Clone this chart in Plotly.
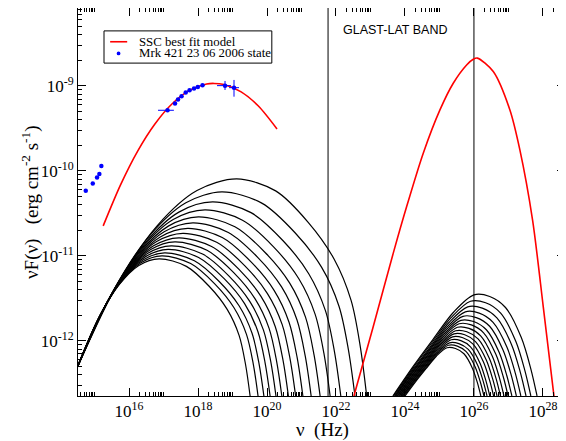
import plotly.graph_objects as go

# ---------------- data (log10 values) ----------------
# red SSC best-fit model: synchrotron hump and inverse-Compton hump
ssc_sync_logx = [15.25, 15.75, 16.25, 16.75, 17.25, 17.75, 18.25, 18.46, 18.75, 19.25, 19.75, 20.29]
ssc_sync_logy = [-10.647, -10.167, -9.766, -9.447, -9.209, -9.052, -8.977, -8.970, -8.983, -9.07, -9.236, -9.506]
ssc_ic_logx = [22.52, 23.081, 23.661, 24.049, 24.53, 25.014, 25.40, 25.788, 25.98, 26.10,
               26.56, 27.04, 27.33, 27.70, 28.01, 28.32]
ssc_ic_logy = [-12.65, -11.832, -10.968, -10.42, -9.792, -9.282, -8.968, -8.753, -8.686, -8.672,
               -8.83, -9.28, -9.75, -10.58, -11.60, -12.65]

# Mrk 421 data: optical/UV points
opt_logx = [14.745, 14.948, 15.072, 15.139, 15.197]
opt_logy = [-10.235, -10.149, -10.079, -10.035, -9.941]
# X-ray points (error bars in log units)
xray_logx = [17.116, 17.333, 17.420, 17.522, 17.643, 17.754, 17.884, 17.994, 18.130, 18.783, 19.043]
xray_logy = [-9.286, -9.206, -9.159, -9.121, -9.076, -9.051, -9.029, -9.012, -8.991, -8.996, -9.02]
xray_ex_minus = [0.276, 0, 0, 0, 0, 0, 0, 0, 0, 0.232, 0.144]
xray_ex_plus = [0.184, 0, 0, 0, 0, 0, 0, 0, 0, 0.174, 0.145]
xray_ey_minus = [0.02, 0, 0, 0, 0, 0, 0, 0, 0, 0.051, 0.106]
xray_ey_plus = [0.02, 0, 0, 0, 0, 0, 0, 0, 0, 0.055, 0.091]

# black synchrotron component curves (lowest first)
sync_logx = [
    [14.45, 15.108, 15.695, 16.283, 16.87, 17.662, 18.322, 18.85, 19.193, 19.378, 19.51],
    [14.45, 15.128, 15.735, 16.343, 16.95, 17.787, 18.485, 19.043, 19.405, 19.601, 19.74],
    [14.45, 15.148, 15.775, 16.403, 17.03, 17.894, 18.614, 19.19, 19.564, 19.766, 19.91],
    [14.45, 15.173, 15.825, 16.478, 17.13, 18.018, 18.758, 19.35, 19.735, 19.942, 20.09],
    [14.45, 15.195, 15.87, 16.545, 17.22, 18.132, 18.892, 19.5, 19.895, 20.108, 20.26],
    [14.45, 15.223, 15.925, 16.628, 17.33, 18.26, 19.035, 19.655, 20.058, 20.275, 20.43],
    [14.45, 15.25, 15.98, 16.71, 17.44, 18.394, 19.189, 19.825, 20.238, 20.461, 20.62],
    [14.45, 15.28, 16.04, 16.80, 17.56, 18.541, 19.359, 20.013, 20.438, 20.667, 20.83],
    [14.45, 15.315, 16.11, 16.905, 17.70, 18.702, 19.537, 20.205, 20.639, 20.873, 21.04],
    [14.45, 15.353, 16.185, 17.018, 17.85, 18.879, 19.737, 20.423, 20.868, 21.109, 21.28],
    [14.45, 15.393, 16.265, 17.138, 18.01, 19.069, 19.952, 20.658, 21.116, 21.364, 21.54],
    [14.45, 15.44, 16.36, 17.28, 18.20, 19.289, 20.197, 20.923, 21.394, 21.649, 21.83],
    [14.45, 15.495, 16.47, 17.445, 18.42, 19.536, 20.466, 21.21, 21.694, 21.954, 22.14],
    [14.45, 15.563, 16.605, 17.648, 18.69, 19.848, 20.813, 21.585, 22.087, 22.357, 22.55],
    [14.45, 15.67, 16.82, 17.97, 19.12, 20.251, 21.194, 21.948, 22.438, 22.702, 22.89],
]
sync_logy = [
    [-12.36, -11.741, -11.349, -11.113, -11.035, -11.124, -11.358, -11.633, -11.939, -12.279, -12.65],
    [-12.36, -11.726, -11.323, -11.081, -11.0, -11.091, -11.33, -11.611, -11.924, -12.271, -12.65],
    [-12.36, -11.71, -11.296, -11.048, -10.965, -11.058, -11.302, -11.588, -11.909, -12.262, -12.65],
    [-12.36, -11.692, -11.266, -11.009, -10.924, -11.019, -11.269, -11.563, -11.891, -12.253, -12.65],
    [-12.36, -11.674, -11.234, -10.97, -10.882, -10.979, -11.236, -11.536, -11.872, -12.243, -12.65],
    [-12.36, -11.653, -11.199, -10.926, -10.835, -10.935, -11.198, -11.507, -11.851, -12.233, -12.65],
    [-12.36, -11.633, -11.164, -10.882, -10.788, -10.89, -11.16, -11.477, -11.831, -12.222, -12.65],
    [-12.36, -11.61, -11.124, -10.832, -10.735, -10.84, -11.118, -11.444, -11.807, -12.21, -12.65],
    [-12.36, -11.584, -11.08, -10.777, -10.676, -10.785, -11.071, -11.406, -11.781, -12.196, -12.65],
    [-12.36, -11.556, -11.032, -10.717, -10.612, -10.724, -11.02, -11.366, -11.753, -12.181, -12.65],
    [-12.36, -11.525, -10.978, -10.65, -10.541, -10.657, -10.963, -11.321, -11.722, -12.165, -12.65],
    [-12.36, -11.489, -10.917, -10.573, -10.459, -10.58, -10.897, -11.27, -11.686, -12.146, -12.65],
    [-12.36, -11.448, -10.846, -10.485, -10.365, -10.491, -10.822, -11.21, -11.645, -12.124, -12.65],
    [-12.36, -11.396, -10.758, -10.375, -10.247, -10.379, -10.728, -11.136, -11.593, -12.097, -12.65],
    [-12.36, -11.329, -10.643, -10.231, -10.094, -10.235, -10.605, -11.04, -11.525, -12.062, -12.65],
]

# black inverse-Compton component curves (highest first)
ic_logx = [
    [23.65, 24.238, 24.825, 25.413, 26.0, 26.458, 26.915, 27.373, 27.647, 27.83],
    [23.67, 24.228, 24.785, 25.343, 25.90, 26.338, 26.775, 27.213, 27.475, 27.65],
    [23.70, 24.23, 24.76, 25.29, 25.82, 26.243, 26.665, 27.088, 27.341, 27.51],
    [23.72, 24.228, 24.735, 25.243, 25.75, 26.153, 26.555, 26.958, 27.199, 27.36],
    [23.74, 24.225, 24.71, 25.195, 25.68, 26.068, 26.455, 26.843, 27.075, 27.23],
    [23.77, 24.233, 24.695, 25.158, 25.62, 25.99, 26.36, 26.73, 26.952, 27.10],
    [23.79, 24.235, 24.68, 25.125, 25.57, 25.925, 26.28, 26.635, 26.848, 26.99],
    [23.82, 24.245, 24.67, 25.095, 25.52, 25.858, 26.195, 26.533, 26.735, 26.87],
    [23.84, 24.248, 24.655, 25.063, 25.47, 25.795, 26.12, 26.445, 26.64, 26.77],
    [23.87, 24.258, 24.645, 25.033, 25.42, 25.733, 26.045, 26.358, 26.545, 26.67],
    [23.89, 24.263, 24.635, 25.008, 25.38, 25.678, 25.975, 26.273, 26.451, 26.57],
    [23.92, 24.275, 24.63, 24.985, 25.34, 25.62, 25.90, 26.18, 26.348, 26.46],
    [23.94, 24.278, 24.615, 24.953, 25.29, 25.563, 25.835, 26.108, 26.271, 26.38],
    [23.97, 24.293, 24.615, 24.938, 25.26, 25.518, 25.775, 26.033, 26.187, 26.29],
    [24.0, 24.305, 24.61, 24.915, 25.22, 25.465, 25.71, 25.955, 26.102, 26.20],
]
ic_logy = [
    [-12.65, -12.302, -11.977, -11.661, -11.459, -11.478, -11.608, -11.962, -12.327, -12.65],
    [-12.65, -12.324, -12.02, -11.725, -11.535, -11.552, -11.674, -12.006, -12.348, -12.65],
    [-12.65, -12.343, -12.057, -11.779, -11.6, -11.616, -11.731, -12.043, -12.365, -12.65],
    [-12.65, -12.361, -12.09, -11.827, -11.659, -11.674, -11.783, -12.077, -12.381, -12.65],
    [-12.65, -12.376, -12.12, -11.871, -11.712, -11.727, -11.829, -12.108, -12.396, -12.65],
    [-12.65, -12.39, -12.147, -11.91, -11.759, -11.773, -11.87, -12.135, -12.409, -12.65],
    [-12.65, -12.402, -12.17, -11.945, -11.80, -11.813, -11.906, -12.159, -12.42, -12.65],
    [-12.65, -12.414, -12.193, -11.979, -11.841, -11.854, -11.942, -12.182, -12.431, -12.65],
    [-12.65, -12.426, -12.216, -12.013, -11.882, -11.894, -11.978, -12.206, -12.442, -12.65],
    [-12.65, -12.436, -12.236, -12.042, -11.918, -11.929, -12.01, -12.227, -12.452, -12.65],
    [-12.65, -12.446, -12.256, -12.071, -11.953, -11.964, -12.04, -12.247, -12.461, -12.65],
    [-12.65, -12.457, -12.276, -12.101, -11.988, -11.998, -12.071, -12.267, -12.471, -12.65],
    [-12.65, -12.467, -12.296, -12.13, -12.024, -12.034, -12.102, -12.288, -12.48, -12.65],
    [-12.65, -12.476, -12.313, -12.154, -12.053, -12.062, -12.128, -12.305, -12.488, -12.65],
    [-12.65, -12.484, -12.329, -12.179, -12.082, -12.091, -12.153, -12.322, -12.496, -12.65],
]

glast_band_logx = [21.77, 26.0]

x_tick_exp = [16, 18, 20, 22, 24, 26, 28]
y_tick_exp = [-12, -11, -10, -9]
x_range_log = [14.52, 28.64]
y_range_log = [-12.65, -8.082]

legend_labels = ["SSC best fit model", "Mrk 421 23 06 2006 state"]

# ---------------- figure ----------------
def p(v):
    return [10.0 ** a for a in v]

SERIF = "Liberation Serif"
RED = "#ff0000"
BLUE = "#0000ff"
fig = go.Figure()

for lx, ly in zip(sync_logx, sync_logy):
    fig.add_trace(go.Scatter(x=p(lx), y=p(ly), mode="lines", showlegend=False,
                             line=dict(color="black", width=1.2, shape="spline", smoothing=0.9),
                             hoverinfo="skip"))
for lx, ly in zip(ic_logx, ic_logy):
    fig.add_trace(go.Scatter(x=p(lx), y=p(ly), mode="lines", showlegend=False,
                             line=dict(color="black", width=1.2, shape="spline", smoothing=0.9),
                             hoverinfo="skip"))

# GLAST-LAT band edges
for g in glast_band_logx:
    fig.add_trace(go.Scatter(x=[10.0 ** g, 10.0 ** g],
                             y=[10.0 ** (y_range_log[0] - 1), 10.0 ** (y_range_log[1] + 1)],
                             mode="lines", showlegend=False, hoverinfo="skip",
                             line=dict(color="black", width=1)))

fig.add_trace(go.Scatter(x=p(ssc_sync_logx) + [None] + p(ssc_ic_logx),
                         y=p(ssc_sync_logy) + [None] + p(ssc_ic_logy),
                         mode="lines", name=legend_labels[0], showlegend=False,
                         line=dict(color=RED, width=1.6, shape="spline", smoothing=0.8)))

fig.add_trace(go.Scatter(x=p(opt_logx), y=p(opt_logy), mode="markers",
                         name=legend_labels[1], showlegend=False,
                         marker=dict(color=BLUE, size=4.5)))

fig.add_trace(go.Scatter(
    x=p(xray_logx), y=p(xray_logy), mode="markers", showlegend=False,
    marker=dict(color=BLUE, size=4.5),
    error_x=dict(type="data", symmetric=False,
                 array=[10.0 ** (a + e) - 10.0 ** a for a, e in zip(xray_logx, xray_ex_plus)],
                 arrayminus=[10.0 ** a - 10.0 ** (a - e) for a, e in zip(xray_logx, xray_ex_minus)],
                 color=BLUE, thickness=1, width=0),
    error_y=dict(type="data", symmetric=False,
                 array=[10.0 ** (a + e) - 10.0 ** a for a, e in zip(xray_logy, xray_ey_plus)],
                 arrayminus=[10.0 ** a - 10.0 ** (a - e) for a, e in zip(xray_logy, xray_ey_minus)],
                 color=BLUE, thickness=1, width=0),
))

# ---- legend box (drawn in paper coordinates) ----
fig.add_shape(type="rect", xref="paper", yref="paper", x0=0.0534, x1=0.398, y0=0.858, y1=0.941,
              line=dict(color="black", width=1), fillcolor="white", layer="above")
fig.add_shape(type="line", xref="paper", yref="paper", x0=0.066, x1=0.101, y0=0.913, y1=0.913,
              line=dict(color=RED, width=1.6), layer="above")
fig.add_shape(type="circle", xref="paper", yref="paper", x0=0.0794, x1=0.0872, y0=0.878, y1=0.888,
              line=dict(color=BLUE, width=0), fillcolor=BLUE, layer="above")
for lab, yy in zip(legend_labels, [0.913, 0.883]):
    fig.add_annotation(text=lab, xref="paper", yref="paper", x=0.121, y=yy,
                       xanchor="left", yanchor="middle", showarrow=False,
                       font=dict(family=SERIF, size=12.8, color="black"))

fig.add_annotation(text="GLAST-LAT BAND", xref="paper", yref="paper",
                   x=0.651, y=0.943, showarrow=False, yanchor="middle",
                   font=dict(family="Liberation Sans", size=12.5, color="black"))

# axis titles
fig.add_annotation(text="ν  (Hz)", xref="paper", yref="paper", x=0.503, y=-0.0876,
                   xanchor="center", yanchor="middle", showarrow=False,
                   font=dict(family=SERIF, size=19, color="black"))
fig.add_annotation(text="νF(ν)   (erg cm<sup>-2</sup> s<sup>-1</sup>)", xref="paper", yref="paper",
                   x=-0.0986, y=0.5, xanchor="center", yanchor="middle", textangle=-90,
                   showarrow=False, font=dict(family=SERIF, size=19, color="black"))

x_minor = [k * 10.0 ** n for n in range(14, 29, 2) for k in range(2, 11)]
y_minor = [k * 10.0 ** n for n in range(-13, -8) for k in range(2, 10)]

fig.update_xaxes(
    type="log", range=x_range_log, automargin=False,
    tickmode="array", tickvals=[10.0 ** e for e in x_tick_exp],
    ticktext=[f"10<sup>{e}</sup>" for e in x_tick_exp],
    ticks="inside", ticklen=8, tickwidth=1, tickcolor="black",
    showline=True, linecolor="black", linewidth=1, mirror="allticks",
    showgrid=False, zeroline=False,
    minor=dict(tickmode="array", tickvals=x_minor, ticks="inside", ticklen=4,
               tickwidth=1, tickcolor="black", showgrid=False),
    tickfont=dict(family=SERIF, size=17, color="black"),
)
fig.update_yaxes(
    type="log", range=y_range_log, automargin=False,
    tickmode="array", tickvals=[10.0 ** e for e in y_tick_exp],
    ticktext=[f"10<sup>{e}</sup>" for e in y_tick_exp],
    ticks="inside", ticklen=8, tickwidth=1, tickcolor="black",
    showline=True, linecolor="black", linewidth=1, mirror="allticks",
    showgrid=False, zeroline=False,
    minor=dict(tickmode="array", tickvals=y_minor, ticks="inside", ticklen=4,
               tickwidth=1, tickcolor="black", showgrid=False),
    tickfont=dict(family=SERIF, size=17, color="black"),
)

# the page body has an 8px margin, so the figure is 8px smaller each way
fig.update_layout(
    width=558, height=433,
    margin=dict(l=70, r=1, t=0, b=45),
    paper_bgcolor="white", plot_bgcolor="white",
    showlegend=False,
)

fig.write_html("out.html")
